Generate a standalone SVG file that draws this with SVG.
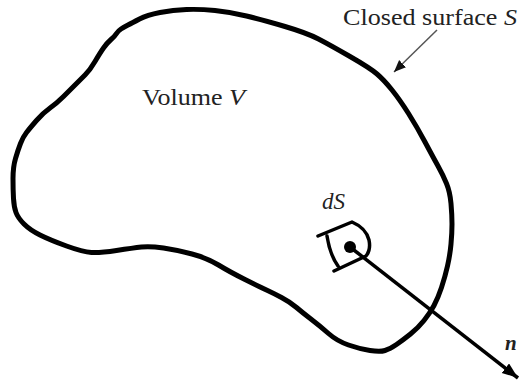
<svg xmlns="http://www.w3.org/2000/svg" width="521" height="386" viewBox="0 0 521 386">
<style>
.blob{fill:none;stroke:#000;stroke-width:5;stroke-linejoin:round;stroke-linecap:round}
.patch{fill:none;stroke:#000;stroke-width:3.5;stroke-linejoin:round;stroke-linecap:round}
.t{font-family:"Liberation Serif","Times New Roman",serif;fill:#222}
</style>
<defs>
<marker id="ah" markerUnits="userSpaceOnUse" markerWidth="18" markerHeight="14" refX="16" refY="6" orient="auto">
<path d="M0,0 L16,6 L0,12 z" fill="#000"/>
</marker>
<marker id="ah2" markerUnits="userSpaceOnUse" markerWidth="14" markerHeight="12" refX="12" refY="5" orient="auto">
<path d="M0,0 L12,5 L0,10 z" fill="#111"/>
</marker>
</defs>
<g id="surface">
<path class="blob" d="M139.5,19 Q147,15 160,12.5 Q173,10 186.5,9.5 Q200,9 215,10.5 Q230,12 246.5,16 Q263,20 285,26.5 Q307,33 318.5,39 Q330,45 350,56.5 Q370,68 377,74 Q384,80 392,90 Q400,100 408.5,113.5 Q417,127 425,142 Q433,157 438,166 Q443,175 446.5,183.5 Q450,192 451,203.5 Q452,215 452,224 Q452,233 451,244 Q450,255 447.5,266 Q445,277 441.5,287.5 Q438,298 434,305.5 Q430,313 424,320.5 Q418,328 410.5,334 Q403,340 396.5,344.5 Q390,349 385,350.5 Q380,352 370,350.5 Q360,349 348.5,345 Q337,341 328.5,333.5 Q320,326 311.5,319.5 Q303,313 296.5,307.5 Q290,302 281.5,297.5 Q273,293 266.5,290 Q260,287 245,279.5 Q230,272 218.5,265 Q207,258 192,254 Q177,250 163.5,248 Q150,246 141.5,247 Q133,248 116.5,250.5 Q100,253 91.5,252.5 Q83,252 66.5,246 Q50,240 40,235 Q30,230 24,224 Q18,218 16,212.5 Q14,207 13.5,198.5 Q13,190 13,178.5 Q13,167 15.5,158.5 Q18,150 20.5,143.5 Q23,137 26.5,132.5 Q30,128 36.5,120.5 Q43,113 50,108 Q57,103 63.5,96.5 Q70,90 75,85 Q80,80 85,75 Q90,70 95,61.5 Q100,53 103.5,48 Q107,43 111,39.5 Q115,36 116.5,33.5 Q118,31 121,29 Q124,27 128,25 Q132,23 139.5,19 Z"/>
</g>
<g id="patch">
<path class="patch" d="M318,236 L352,222 Q366,228 369,240 Q371,250 366,256 L334,271 M327,236 Q330,255 338,266"/>
<circle cx="350" cy="247" r="6" fill="#000"/>
</g>
<g id="connectors">
<line x1="350" y1="247" x2="518" y2="378" stroke="#000" stroke-width="3.5" marker-end="url(#ah)"/>
<line x1="437" y1="30" x2="394" y2="72" stroke="#555" stroke-width="1.5" marker-end="url(#ah2)"/>
</g>
<g id="labels">
<text class="t" x="343" y="25" font-size="23" textLength="174" lengthAdjust="spacingAndGlyphs">Closed surface <tspan font-style="italic">S</tspan></text>
<text class="t" x="142" y="105" font-size="23" textLength="103" lengthAdjust="spacingAndGlyphs">Volume <tspan font-style="italic">V</tspan></text>
<text class="t" x="322" y="209" font-size="23" font-style="italic">dS</text>
<text class="t" x="505" y="350" font-size="21" font-style="italic" font-weight="bold">n</text>
</g>
</svg>
